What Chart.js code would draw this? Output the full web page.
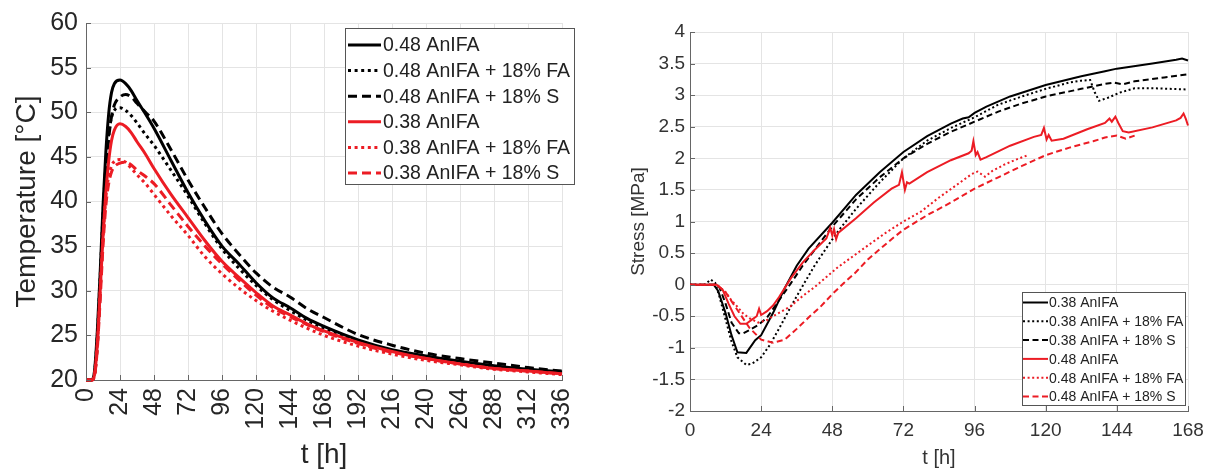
<!DOCTYPE html>
<html>
<head>
<meta charset="utf-8">
<script src="https://cdn.jsdelivr.net/npm/chart.js@4.4.1/dist/chart.umd.min.js"></script>
<style>
  html, body { margin: 0; padding: 0; background: #fff; }
  #wrap { position: relative; width: 1215px; height: 473px; overflow: hidden; }
  .pane { position: absolute; top: 0; height: 473px; }
  #leftPane { left: 0; width: 600px; }
  #rightPane { left: 600px; width: 615px; }
</style>
</head>
<body>
<div id="wrap">
  <div class="pane" id="leftPane"><canvas id="tempChart"></canvas></div>
  <div class="pane" id="rightPane"><canvas id="stressChart"></canvas></div>
</div>
<script>
// === Temperature data (left plot) ===
const tempLabels = ['0.48 AnIFA', '0.48 AnIFA + 18% FA', '0.48 AnIFA + 18% S',
                    '0.38 AnIFA', '0.38 AnIFA + 18% FA', '0.38 AnIFA + 18% S'];
const tempTime = [0, 4, 6, 8, 10, 12, 14, 16, 18, 20, 24, 28, 32, 36, 42, 48, 60, 72, 84, 96,
                  108, 120, 132, 144, 156, 168, 192, 216, 240, 264, 288, 312, 336];
const temp048 = [20, 20, 21, 25.5, 32, 39.5, 45.5, 49.8, 52.2, 53.2, 53.6, 53.2, 52.4, 51.3, 49.8, 48.2,
                 44.6, 41.0, 37.8, 35.0, 33.0, 30.9, 29.2, 28.1, 26.9, 26.0, 24.5, 23.4, 22.7, 22.1, 21.6, 21.2, 20.9];
const temp048FA = [20, 20, 20.8, 25, 31.5, 38.5, 44, 47.5, 49.4, 50.2, 50.5, 50.2, 49.6, 48.8, 47.5, 46.3,
                   43.5, 40.6, 37.5, 34.7, 32.5, 30.6, 29.0, 27.8, 26.7, 25.8, 24.3, 23.3, 22.6, 22.0, 21.5, 21.1, 20.8];
const temp048S = [20, 20, 20.6, 24, 30, 37, 43, 47, 49.5, 50.8, 51.7, 52.0, 51.7, 51.0, 50.0, 49.0,
                  45.8, 42.4, 39.3, 36.4, 34.1, 32.0, 30.4, 29.3, 28.0, 27.0, 25.1, 23.9, 23.0, 22.4, 21.9, 21.4, 21.0];
const temp038 = [20, 20, 20.6, 24, 30, 36, 41, 44.5, 46.8, 48.0, 48.7, 48.4, 47.7, 46.7, 45.3, 43.7,
                 40.8, 38.2, 35.6, 33.3, 31.5, 29.8, 28.3, 27.3, 26.3, 25.5, 24.2, 23.2, 22.4, 21.8, 21.3, 21.0, 20.7];
const temp038FA = [20, 20, 20.5, 24, 30, 36, 40.5, 42.8, 44.0, 44.5, 44.7, 44.4, 43.7, 43.0, 42.0, 40.8,
                   38.4, 36.2, 33.8, 31.9, 30.3, 28.9, 27.7, 26.7, 25.8, 25.0, 23.8, 22.9, 22.2, 21.7, 21.2, 20.9, 20.6];
const temp038S = [20, 20, 20.5, 23.5, 29, 35, 39.5, 42, 43.3, 43.9, 44.3, 44.4, 44.1, 43.5, 42.8, 42.0,
                  39.6, 37.2, 35.0, 33.0, 31.2, 29.5, 28.1, 27.1, 26.2, 25.4, 24.1, 23.1, 22.4, 21.8, 21.3, 21.0, 20.7];

// === Stress data (right plot) ===
const stressLabels = ['0.38 AnIFA', '0.38 AnIFA + 18% FA', '0.38 AnIFA + 18% S',
                      '0.48 AnIFA', '0.48 AnIFA + 18% FA', '0.48 AnIFA + 18% S'];
const s038T = [0, 8, 9.5, 12, 14, 16, 19, 22, 24, 28, 32, 36, 40, 48, 56, 64, 72, 80, 88, 92, 94, 96, 100,
               108, 120, 132, 140, 144, 156, 164, 166, 168];
const s038V = [0, 0, -0.1, -0.45, -0.8, -1.07, -1.08, -0.88, -0.8, -0.45, -0.05, 0.3, 0.57, 0.98, 1.42, 1.78, 2.1,
               2.35, 2.55, 2.63, 2.65, 2.72, 2.82, 2.98, 3.16, 3.3, 3.38, 3.42, 3.5, 3.56, 3.58, 3.55];
const s038FAT = [0, 5, 7, 8.5, 10, 12, 14, 16, 19, 21, 24, 27, 30, 34, 38, 42, 46, 50, 56, 64, 72, 80, 88, 96,
                 104, 112, 120, 128, 132, 135, 136.5, 138, 141, 145, 150, 156, 168];
const s038FAV = [0, 0, 0.08, 0.03, -0.2, -0.55, -0.9, -1.15, -1.27, -1.25, -1.15, -0.95, -0.7, -0.35, -0.02, 0.3,
                 0.58, 0.85, 1.2, 1.62, 2.0, 2.28, 2.48, 2.65, 2.85, 2.98, 3.1, 3.2, 3.23, 3.24, 3.05, 2.91, 2.96,
                 3.04, 3.11, 3.11, 3.09];
const s038ST = [0, 9, 10, 12, 14, 16.5, 18, 20, 23, 26, 30, 34, 38, 42, 48, 56, 64, 72, 80, 88, 96, 104, 112,
                118, 120, 124, 132, 140, 143, 146, 150, 160, 168];
const s038SV = [0, 0, -0.05, -0.3, -0.6, -0.77, -0.77, -0.72, -0.64, -0.52, -0.25, 0.02, 0.3, 0.55, 0.92, 1.35,
                1.7, 2.0, 2.23, 2.42, 2.58, 2.74, 2.87, 2.95, 2.98, 3.02, 3.1, 3.18, 3.2, 3.17, 3.22, 3.28, 3.33];
const s048T = [0, 9, 11, 13, 15, 17, 19, 21, 22.5, 23.3, 24, 26, 28, 30, 34, 38, 42, 46, 47.3, 48, 48.6, 49.3,
               50, 56, 62, 68, 70.5, 71.5, 72.5, 73.2, 74, 80, 88, 94, 95, 95.6, 96.4, 97, 98, 100, 108, 116,
               118.5, 119.4, 120.3, 121, 122, 126, 134, 140, 141.5, 142.3, 143.5, 144.5, 146, 148, 156, 164,
               165.5, 166.5, 167.3, 168];
const s048V = [0, 0, -0.08, -0.3, -0.5, -0.62, -0.62, -0.55, -0.5, -0.38, -0.48, -0.42, -0.33, -0.2, 0.1, 0.35,
               0.55, 0.73, 0.9, 0.78, 0.88, 0.72, 0.82, 1.05, 1.3, 1.52, 1.58, 1.78, 1.5, 1.62, 1.6, 1.78, 1.97,
               2.08, 2.12, 2.27, 2.05, 2.1, 1.98, 2.02, 2.2, 2.34, 2.37, 2.48, 2.3, 2.37, 2.28, 2.31, 2.46, 2.56,
               2.63, 2.58, 2.66, 2.56, 2.43, 2.41, 2.49, 2.6, 2.64, 2.71, 2.62, 2.52];
const s048FAT = [0, 9, 12, 14, 16, 18, 20, 23, 26, 28, 31, 34, 38, 42, 46, 50, 55, 60, 66, 72, 78, 84, 90, 95,
                 97, 99.5, 102, 106, 110, 114];
const s048FAV = [0, 0, -0.12, -0.25, -0.35, -0.46, -0.53, -0.6, -0.56, -0.5, -0.42, -0.34, -0.18, -0.04, 0.12,
                 0.28, 0.45, 0.62, 0.82, 1.0, 1.16, 1.38, 1.58, 1.75, 1.79, 1.71, 1.8, 1.9, 1.98, 2.05];
const s048ST = [0, 9, 12, 16, 20, 24, 28, 32, 36, 40, 44, 48, 52, 56, 60, 64, 68, 72, 80, 88, 96, 104, 112, 120,
                128, 136, 140, 144, 147, 150];
const s048SV = [0, 0, -0.12, -0.4, -0.68, -0.87, -0.92, -0.87, -0.7, -0.52, -0.35, -0.15, 0.03, 0.2, 0.4, 0.56,
                0.72, 0.87, 1.1, 1.3, 1.52, 1.7, 1.88, 2.05, 2.17, 2.27, 2.33, 2.36, 2.31, 2.36];

const FONT = '"Liberation Sans", Arial, Helvetica, sans-serif';
const RED = '#ec1c24';
const BLACK = '#000000';
const AXIS = '#666666';

// small tick marks pointing into the plot, like MATLAB axes
const innerTicks = {
  id: 'innerTicks',
  afterDatasetsDraw(chart, args, opts) {
    const { ctx, chartArea: a, scales: { x, y } } = chart;
    ctx.save();
    ctx.strokeStyle = AXIS;
    ctx.lineWidth = 1;
    ctx.beginPath();
    x.ticks.forEach(t => {
      const px = Math.round(x.getPixelForValue(t.value)) + 0.5;
      ctx.moveTo(px, a.bottom);
      ctx.lineTo(px, a.bottom - opts.len);
    });
    y.ticks.forEach(t => {
      const py = Math.round(y.getPixelForValue(t.value)) + 0.5;
      ctx.moveTo(a.left, py);
      ctx.lineTo(a.left + opts.len, py);
    });
    ctx.stroke();
    ctx.restore();
  }
};

// draws a MATLAB style boxed legend inside the plot
const boxLegend = {
  id: 'boxLegend',
  afterDatasetsDraw(chart, args, opts) {
    const ctx = chart.ctx;
    ctx.save();
    ctx.fillStyle = '#ffffff';
    ctx.fillRect(opts.x, opts.y, opts.w, opts.h);
    ctx.strokeStyle = '#555';
    ctx.lineWidth = 1;
    ctx.strokeRect(opts.x + 0.5, opts.y + 0.5, opts.w, opts.h);
    ctx.font = opts.size + 'px ' + FONT;
    ctx.textBaseline = 'middle';
    ctx.textAlign = 'left';
    chart.data.datasets.forEach((ds, i) => {
      const y = opts.y + opts.first + i * opts.row;
      ctx.strokeStyle = ds.borderColor;
      ctx.lineWidth = ds.borderWidth;
      ctx.setLineDash(ds.borderDash || []);
      ctx.beginPath();
      ctx.moveTo(opts.x + opts.s0, y);
      ctx.lineTo(opts.x + opts.s1, y);
      ctx.stroke();
      ctx.setLineDash([]);
      ctx.fillStyle = '#222';
      ctx.fillText(ds.label, opts.x + opts.tx, y + 1);
    });
    ctx.restore();
  }
};

function pts(xs, ys) {
  return xs.map((x, i) => ({ x: x, y: ys[i] }));
}

function makeSet(label, data, color, dash, width, i, smooth) {
  return {
    label: label,
    data: data,
    borderColor: color,
    backgroundColor: color,
    borderWidth: width,
    borderDash: dash,
    pointRadius: 0,
    fill: false,
    order: 6 - i,
    clip: false,
    tension: smooth ? 0.4 : 0,
    cubicInterpolationMode: smooth ? 'monotone' : 'default'
  };
}

// === Chart 1: Temperature ===
const tempSeries = [temp048, temp048FA, temp048S, temp038, temp038FA, temp038S];
const tempStyles = [
  [BLACK, []], [BLACK, [3, 3.6]], [BLACK, [9, 5]],
  [RED, []], [RED, [3, 3.6]], [RED, [9, 5]]
];

new Chart(document.getElementById('tempChart'), {
  type: 'line',
  data: {
    datasets: tempSeries.map((s, i) =>
      makeSet(tempLabels[i], pts(tempTime, s), tempStyles[i][0], tempStyles[i][1], 3, i, true))
  },
  plugins: [innerTicks, boxLegend],
  options: {
    responsive: true,
    maintainAspectRatio: false,
    animation: false,
    events: [],
    layout: { padding: { top: 20, right: 17, left: 0, bottom: 0 } },
    plugins: {
      legend: { display: false },
      tooltip: { enabled: false },
      innerTicks: { len: 5 },
      boxLegend: { x: 345, y: 28, w: 229, h: 156, first: 17, row: 25.6, s0: 3, s1: 36, tx: 38, size: 19.5 }
    },
    scales: {
      x: {
        type: 'linear',
        min: 0,
        max: 336,
        afterFit: function (scale) { scale.height = 93; },
        ticks: {
          stepSize: 24,
          autoSkip: false,
          minRotation: 90,
          maxRotation: 90,
          padding: 8,
          color: '#262626',
          font: { family: FONT, size: 25 }
        },
        grid: { color: '#e4e4e4', drawTicks: false },
        border: { color: AXIS, width: 1 },
        title: {
          display: true,
          text: 't [h]',
          color: '#262626',
          font: { family: FONT, size: 28, lineHeight: 1 },
          padding: { top: 0, bottom: 4 }
        }
      },
      y: {
        min: 20,
        max: 60,
        afterFit: function (scale) { scale.width = 86; },
        ticks: {
          stepSize: 5,
          padding: 8,
          color: '#262626',
          font: { family: FONT, size: 25 }
        },
        grid: { color: '#e4e4e4', drawTicks: false },
        border: { color: AXIS, width: 1 },
        title: {
          display: true,
          text: 'Temperature [°C]',
          color: '#262626',
          font: { family: FONT, size: 28 },
          padding: { top: 10, bottom: 0 }
        }
      }
    }
  }
});

// === Chart 2: Stress ===
const stressSeries = [
  pts(s038T, s038V), pts(s038FAT, s038FAV), pts(s038ST, s038SV),
  pts(s048T, s048V), pts(s048FAT, s048FAV), pts(s048ST, s048SV)
];
const stressStyles = [
  [BLACK, []], [BLACK, [2, 2.6]], [BLACK, [6, 3.5]],
  [RED, []], [RED, [2, 2.6]], [RED, [6, 3.5]]
];

new Chart(document.getElementById('stressChart'), {
  type: 'line',
  data: {
    datasets: stressSeries.map((s, i) =>
      makeSet(stressLabels[i], s, stressStyles[i][0], stressStyles[i][1], 2, i, false))
  },
  plugins: [innerTicks, boxLegend],
  options: {
    responsive: true,
    maintainAspectRatio: false,
    animation: false,
    events: [],
    layout: { padding: { top: 32, right: 27, left: 0, bottom: 0 } },
    plugins: {
      legend: { display: false },
      tooltip: { enabled: false },
      innerTicks: { len: 5 },
      boxLegend: { x: 422, y: 292, w: 163, h: 113, first: 10.5, row: 18.8, s0: 1, s1: 26, tx: 27, size: 14 }
    },
    scales: {
      x: {
        type: 'linear',
        min: 0,
        max: 168,
        afterFit: function (scale) { scale.height = 62; },
        ticks: {
          stepSize: 24,
          autoSkip: false,
          maxRotation: 0,
          padding: 8,
          color: '#333',
          font: { family: FONT, size: 19 }
        },
        grid: { color: '#e4e4e4', drawTicks: false },
        border: { color: AXIS, width: 1 },
        title: {
          display: true,
          text: 't [h]',
          color: '#333',
          font: { family: FONT, size: 20, lineHeight: 1 },
          padding: { top: 0, bottom: 5 }
        }
      },
      y: {
        min: -2,
        max: 4,
        afterFit: function (scale) { scale.width = 90; },
        ticks: {
          stepSize: 0.5,
          padding: 5,
          color: '#333',
          font: { family: FONT, size: 19 },
          callback: function (value) {
            return String(Number(value.toFixed(1)));
          }
        },
        grid: { color: '#e4e4e4', drawTicks: false },
        border: { color: AXIS, width: 1 },
        title: {
          display: true,
          text: 'Stress [MPa]',
          color: '#333',
          font: { family: FONT, size: 19 },
          padding: { top: 27, bottom: 0 }
        }
      }
    }
  }
});
</script>
</body>
</html>
